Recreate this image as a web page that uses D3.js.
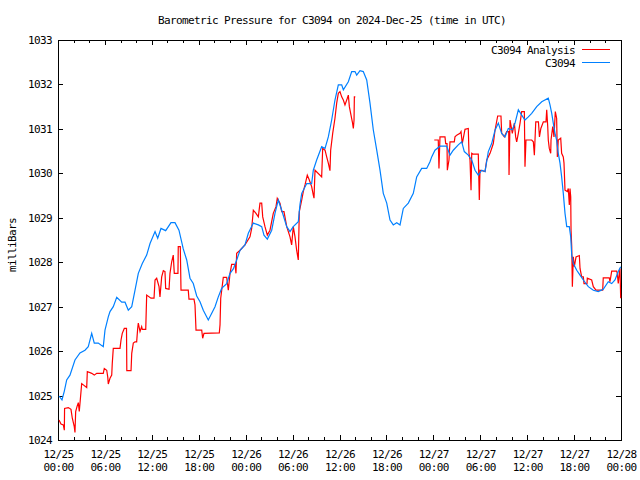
<!DOCTYPE html>
<html><head><meta charset="utf-8">
<script src="https://cdn.jsdelivr.net/npm/d3@7"></script>
<style>
body{margin:0;background:#fff}
text{font-family:"DejaVu Sans Mono",monospace;font-size:11px;letter-spacing:-0.62px;fill:#000}
</style>
</head><body><svg id="c" width="640" height="480"></svg>
<script>
const titleText = "Barometric Pressure for C3094 on 2024-Dec-25 (time in UTC)";
const yLabel = "milliBars";
const seriesNames = ["C3094 Analysis", "C3094"];
const seriesColors = ["#ff0000", "#0080ff"];
const xTickHours = [0,6,12,18,24,30,36,42,48,54,60,66,72];
const xMinorHours = d3.range(0, 73, 2);
const xTickDates = ["12/25","12/25","12/25","12/25","12/26","12/26","12/26","12/26","12/27","12/27","12/27","12/27","12/28"];
const xTickTimes = ["00:00","06:00","12:00","18:00","00:00","06:00","12:00","18:00","00:00","06:00","12:00","18:00","00:00"];
const yTicks = [1024,1025,1026,1027,1028,1029,1030,1031,1032,1033];

// C3094 (blue), hours since 2024-12-25 00:00 UTC
const blueT = [0.13,0.51,0.81,1.11,1.53,2.17,2.81,3.45,3.87,4.31,4.64,5.15,5.79,6.01,6.43,6.65,7.07,7.51,8.15,8.57,8.99,9.43,9.85,10.27,10.78,11.34,11.77,12.41,12.75,13.17,13.77,14.45,14.96,15.47,16.02,16.46,16.88,17.30,17.74,18.16,18.58,19.22,19.66,20.08,20.50,20.93,21.57,22.00,22.42,22.85,23.28,23.91,24.34,24.98,25.62,26.05,26.34,26.77,27.33,27.75,28.17,28.61,29.25,29.67,30.09,30.73,30.95,31.17,31.81,32.44,32.65,33.08,33.72,34.15,34.57,35.00,35.42,35.85,36.28,36.49,37.13,37.56,37.98,38.20,38.62,39.04,39.48,39.90,40.32,40.76,41.18,41.60,42.04,42.46,42.88,43.32,43.74,44.16,44.80,45.44,45.87,46.51,47.15,47.57,47.79,48.21,48.85,49.71,50.13,50.55,51.19,51.63,51.96,52.47,52.91,53.33,53.75,54.19,54.61,55.03,55.46,55.89,56.31,56.74,57.17,57.59,58.10,58.45,58.87,59.30,59.72,60.15,60.58,61.22,61.86,62.70,62.92,63.14,63.34,63.56,63.77,63.98,64.20,64.41,64.62,64.84,65.06,65.39,65.57,65.70,65.90,66.34,66.76,67.18,67.82,68.46,69.10,69.73,70.37,70.81,71.23,71.65,71.96];
const blueV = [1024.99,1024.90,1025.10,1025.35,1025.46,1025.80,1025.96,1026.02,1026.10,1026.40,1026.18,1026.18,1026.10,1026.47,1026.77,1026.89,1027.00,1027.21,1027.10,1027.10,1026.92,1027.00,1027.37,1027.75,1027.97,1028.16,1028.42,1028.69,1028.54,1028.76,1028.71,1028.89,1028.89,1028.72,1028.30,1028.05,1027.64,1027.52,1027.24,1027.11,1026.92,1026.70,1026.85,1027.00,1027.22,1027.41,1027.52,1027.75,1027.85,1028.05,1028.27,1028.39,1028.65,1028.88,1028.84,1028.80,1028.61,1028.52,1028.72,1029.10,1029.40,1029.17,1028.80,1028.69,1028.80,1028.91,1029.30,1029.55,1029.77,1029.77,1030.07,1030.30,1030.60,1030.56,1030.82,1031.20,1031.65,1031.99,1031.99,1031.88,1032.06,1032.29,1032.29,1032.21,1032.31,1032.29,1032.10,1031.58,1030.98,1030.52,1030.07,1029.55,1029.33,1028.95,1028.84,1028.89,1028.84,1029.21,1029.33,1029.55,1029.92,1030.11,1030.11,1030.26,1030.37,1030.52,1030.61,1030.61,1030.41,1030.52,1030.64,1030.71,1030.49,1030.41,1030.30,1030.07,1029.96,1030.07,1030.04,1030.49,1030.67,1030.97,1031.13,1030.90,1030.82,1031.01,1030.98,1031.13,1031.43,1031.31,1031.20,1031.27,1031.35,1031.50,1031.61,1031.69,1031.54,1031.35,1031.13,1030.90,1030.75,1030.45,1030.23,1029.92,1029.55,1029.10,1028.80,1028.80,1028.57,1028.16,1027.97,1027.82,1027.71,1027.60,1027.45,1027.37,1027.34,1027.39,1027.56,1027.52,1027.60,1027.79,1027.90];

// C3094 Analysis (red); null marks the data gap
const redT = [0.13,0.38,0.68,0.81,0.84,1.32,1.66,1.83,2.08,2.17,2.26,2.43,2.60,2.72,2.85,3.03,3.24,3.67,3.75,4.31,4.64,4.95,5.79,5.92,6.23,6.36,6.43,6.65,6.87,6.94,7.07,7.93,8.06,8.22,8.48,8.76,8.80,9.34,9.43,9.63,9.85,10.06,10.19,10.27,10.49,10.70,10.78,11.22,11.34,11.89,12.28,12.41,12.62,12.92,13.04,13.26,13.47,13.68,13.77,14.20,14.32,14.54,14.74,14.87,15.34,15.38,15.64,15.73,16.66,16.75,17.39,17.52,17.65,18.38,18.50,18.67,20.63,20.72,20.81,21.14,21.57,21.78,22.00,22.21,22.64,22.76,22.85,23.28,23.91,24.55,24.77,24.98,25.32,25.62,25.83,26.05,26.18,26.47,26.77,27.11,27.53,27.88,28.04,28.39,28.61,28.90,29.25,29.67,29.88,30.09,30.31,30.52,30.73,30.86,31.17,31.37,31.59,31.88,32.14,32.44,32.65,32.74,32.87,33.72,33.85,34.15,34.36,34.57,34.78,34.87,35.13,35.42,35.64,35.85,36.06,36.28,36.49,36.70,37.00,37.13,37.26,37.47,37.64,37.77,37.86,37.90,38.02,43.00,48.12,48.63,48.72,48.85,49.49,49.58,49.75,49.79,50.00,50.13,50.68,50.77,50.99,51.41,51.54,51.70,52.05,52.47,52.56,52.69,52.82,52.91,53.11,53.75,53.88,53.97,54.61,54.83,55.25,55.46,55.67,55.89,56.23,56.65,56.74,57.08,57.38,57.64,57.68,57.81,58.10,58.36,58.53,58.66,58.87,59.09,59.30,59.64,59.72,59.85,60.58,60.79,60.92,61.10,61.44,61.57,61.75,62.07,62.41,62.50,62.63,62.70,62.83,63.01,63.05,63.27,63.43,63.60,63.77,63.86,63.98,64.29,64.41,64.62,64.71,64.84,65.13,65.26,65.39,65.48,65.57,65.61,65.70,65.78,65.90,66.03,66.25,66.67,66.76,66.97,67.18,67.27,67.65,67.69,68.25,68.46,68.80,69.66,69.73,70.50,70.59,70.81,71.45,71.52,71.65,71.78,71.87,71.96];
const redV = [1024.45,1024.36,1024.34,1024.22,1024.71,1024.73,1024.69,1024.49,1024.30,1024.17,1024.64,1024.75,1024.84,1024.64,1024.90,1025.27,1025.24,1025.18,1025.54,1025.50,1025.46,1025.50,1025.50,1025.61,1025.57,1025.42,1025.26,1025.39,1025.46,1025.72,1026.06,1026.06,1026.25,1026.40,1026.51,1026.51,1025.56,1025.56,1025.95,1026.18,1026.21,1026.21,1026.51,1026.63,1026.44,1026.55,1026.49,1026.49,1027.26,1027.19,1027.19,1027.60,1027.64,1027.45,1027.22,1027.67,1027.81,1027.79,1027.41,1027.39,1027.75,1028.01,1028.16,1027.75,1027.75,1028.35,1028.35,1027.37,1027.37,1027.17,1027.17,1027.04,1026.47,1026.47,1026.29,1026.40,1026.41,1026.59,1027.19,1027.66,1027.66,1027.37,1027.75,1027.95,1027.95,1027.75,1028.20,1028.27,1028.39,1028.57,1028.76,1029.17,1029.10,1029.02,1029.33,1029.33,1029.02,1028.80,1028.61,1028.72,1029.10,1029.25,1029.44,1029.33,1029.14,1029.14,1028.80,1028.57,1028.39,1028.80,1028.57,1028.27,1028.05,1029.14,1029.40,1029.59,1029.74,1029.96,1029.85,1029.70,1029.51,1029.44,1030.07,1029.92,1030.56,1030.52,1030.37,1030.23,1030.06,1030.52,1030.90,1031.24,1031.58,1031.80,1031.84,1031.72,1031.65,1031.54,1031.69,1031.76,1031.50,1031.31,1031.16,1031.01,1031.20,1031.72,1031.72,null,1030.75,1030.75,1030.11,1030.82,1030.82,1030.67,1030.67,1030.07,1030.30,1030.71,1030.71,1030.82,1030.86,1030.90,1030.94,1030.67,1030.99,1031.01,1030.45,1030.30,1029.62,1030.45,1030.43,1030.43,1029.40,1030.07,1030.04,1030.30,1030.45,1030.56,1030.67,1030.97,1031.29,1031.29,1030.90,1030.82,1030.94,1030.94,1029.96,1031.20,1030.90,1031.13,1030.82,1030.71,1030.90,1031.13,1031.39,1031.39,1030.15,1030.75,1030.75,1030.71,1030.41,1031.16,1031.16,1030.82,1031.01,1031.16,1031.16,1031.43,1031.05,1030.75,1030.56,1030.45,1030.75,1031.05,1030.82,1031.39,1031.24,1030.37,1030.75,1030.79,1030.45,1030.37,1030.23,1029.62,1029.59,1029.66,1029.29,1029.66,1029.47,1028.72,1028.35,1027.45,1028.12,1027.90,1028.12,1028.15,1027.86,1027.67,1027.67,1027.52,1027.52,1027.64,1027.60,1027.45,1027.37,1027.37,1027.65,1027.65,1027.56,1027.80,1027.80,1027.75,1027.52,1027.75,1027.86,1027.19];

const L = 58, R = 621, T = 40, B = 440;
const svg = d3.select("#c");
svg.append("rect").attr("width", 640).attr("height", 480).attr("fill", "#fff");

const x = d3.scaleLinear().domain([0, 72]).range([L, R]);
const y = d3.scaleLinear().domain([1024, 1033]).range([B, T]);

function styleAxis(g) {
  g.select(".domain").remove();
  g.selectAll("line").attr("stroke", "#000").attr("shape-rendering", "crispEdges");
  g.selectAll("text").attr("font-family", null).attr("font-size", null).attr("fill", "#000");
}

// minor x ticks (bottom + top)
svg.append("g").attr("transform", `translate(0,${B})`)
  .call(d3.axisBottom(x).tickValues(xMinorHours).tickSize(-3).tickFormat("")).call(styleAxis);
svg.append("g").attr("transform", `translate(0,${T})`)
  .call(d3.axisTop(x).tickValues(xMinorHours).tickSize(-3).tickFormat("")).call(styleAxis);
// major x ticks
const gx = svg.append("g").attr("transform", `translate(0,${B})`)
  .call(d3.axisBottom(x).tickValues(xTickHours).tickSize(-5).tickPadding(18).tickFormat((d, i) => xTickDates[i]))
  .call(styleAxis);
gx.selectAll(".tick text").each(function(d, i) {
  const t = d3.select(this);
  t.text(null).attr("y", 0).attr("dy", null);
  t.append("tspan").attr("x", 0).attr("y", 18).text(xTickDates[i]);
  t.append("tspan").attr("x", 0).attr("y", 31).text(xTickTimes[i]);
});
svg.append("g").attr("transform", `translate(0,${T})`)
  .call(d3.axisTop(x).tickValues(xTickHours).tickSize(-5).tickFormat("")).call(styleAxis);
// y axes
svg.append("g").attr("transform", `translate(${L},0)`)
  .call(d3.axisLeft(y).tickValues(yTicks).tickSize(-5).tickPadding(6).tickFormat(d3.format("d")))
  .call(styleAxis);
svg.append("g").attr("transform", `translate(${R},0)`)
  .call(d3.axisRight(y).tickValues(yTicks).tickSize(-5).tickFormat("")).call(styleAxis);

// frame
svg.append("rect").attr("x", L).attr("y", T).attr("width", R - L).attr("height", B - T)
  .attr("fill", "none").attr("stroke", "#000").attr("shape-rendering", "crispEdges");

// series
const redData = redT.map((t, i) => ({t, v: redV[i]}));
const blueData = blueT.map((t, i) => ({t, v: blueV[i]}));
const line = d3.line().defined(d => d.v != null).x(d => x(d.t)).y(d => y(d.v));
svg.append("path").datum(redData).attr("d", line).attr("fill", "none")
  .attr("stroke", seriesColors[0]).attr("stroke-width", 1.2);
svg.append("path").datum(blueData).attr("d", line).attr("fill", "none")
  .attr("stroke", seriesColors[1]).attr("stroke-width", 1.2);

// title & labels
svg.append("text").attr("x", 332).attr("y", 24).attr("text-anchor", "middle").text(titleText);
svg.append("text").attr("transform", "translate(16,245) rotate(-90)").attr("text-anchor", "middle").text(yLabel);

// legend
seriesNames.forEach((name, i) => {
  const yy = 49.5 + i * 13;
  svg.append("text").attr("x", 575).attr("y", yy + 4).attr("text-anchor", "end").text(name);
  svg.append("line").attr("x1", 582).attr("x2", 610).attr("y1", yy).attr("y2", yy)
    .attr("stroke", seriesColors[i]).attr("shape-rendering", "crispEdges");
});
</script>
</body></html>
